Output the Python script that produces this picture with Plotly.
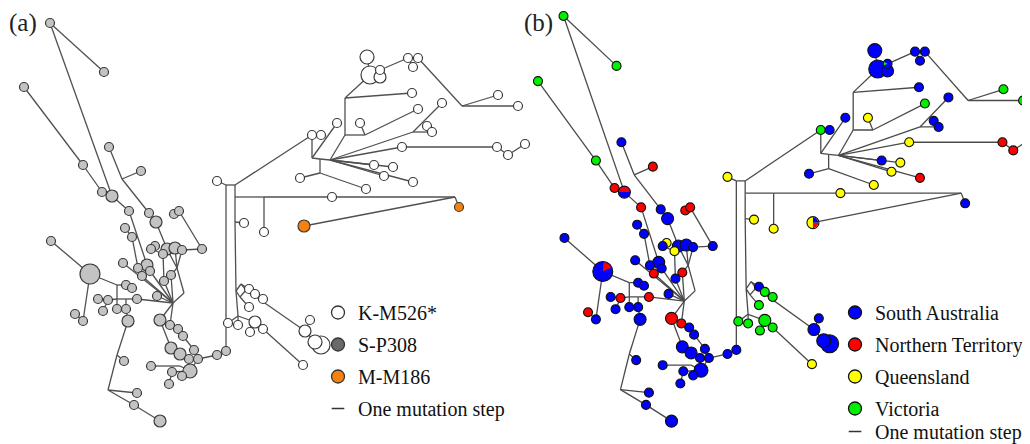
import math
import plotly.graph_objects as go

# ---------------- network data (layout coordinates of the haplotype network) ----------------
node_name = [
    "A1", "A2", "A3", "A4", "A5", "A6", "A7", "A8", "A9", "A10",
    "A11", "A12", "A13", "A14", "A15", "A16", "A17", "A18", "A19", "A20",
    "A21", "A22", "A23", "A24", "A25", "A26", "A27", "A28", "A29", "A30",
    "A31", "A32", "A33", "A34", "A35", "A36", "A37", "A38", "A39", "A40",
    "A41", "A42", "A43", "A44", "A45", "A46", "A47", "A48", "A49", "A50",
    "A51", "A52", "A53", "A54", "A55", "A56", "A57", "A58", "A59", "A60",
    "A61", "A62", "A63",
    "J4", "J0", "Jq", "J1", "Jh", "Jv", "Jw", "Ja", "Jb", "Jc",
    "B1", "T1", "T2", "H1", "H2", "B24", "J12", "O1", "O2", "B25", "S1", "B26",
    "Dl", "Dt", "Dr", "Db", "E1", "E2", "E3", "E4", "Je", "E5", "E6", "E7", "E8", "E9",
    "F1", "F2", "F3", "F4", "G1",
    "B2", "B3", "B4", "J2", "J6a", "J5", "J6", "B5", "B12", "B8", "B9", "B10", "B11",
    "B7", "B21", "B22", "B23", "J10", "B16", "B17", "B18", "J8", "J7", "J9", "B14", "B15",
    "B13", "C1", "C2", "C3", "C4", "D1", "D2", "D3", "J11", "B19", "B20",
]
node_x = [
    50, 104, 24, 109, 141, 83, 102, 112, 129, 149,
    156, 174, 179, 125, 132, 155, 151, 163, 167, 175,
    182, 202, 123, 138, 147, 150, 142, 171, 164, 157,
    51, 90, 75, 83, 126, 132, 98, 108, 103, 117,
    126, 137, 128, 160, 170, 178, 183, 171, 180, 194,
    189, 198, 190, 172, 182, 169, 151, 217, 226, 124,
    137, 134, 160,
    122, 177, 184, 173, 117, 117, 126, 117, 108, 180,
    217, 226, 235, 235, 264, 332, 455, 459, 304, 264, 235, 244,
    236, 241, 246, 240, 249, 255, 263, 249, 238, 228, 238, 255, 250, 263,
    310, 305, 315, 321, 303,
    312, 321, 337, 312, 320, 330, 320, 300, 366, 374, 393, 384, 413,
    402, 497, 508, 525, 413, 442, 427, 432, 345, 345, 365, 360, 418,
    412, 367, 370, 380, 380, 408, 418, 413, 462, 498, 518,
]
node_y = [
    23, 72, 87, 147, 171, 165, 192, 196, 211, 213,
    222, 214, 211, 228, 237, 246, 249, 254, 249, 248,
    250, 249, 263, 268, 265, 271, 276, 275, 281, 296,
    241, 274, 314, 321, 285, 288, 299, 300, 311, 309,
    309, 299, 321, 320, 325, 329, 336, 348, 354, 350,
    359, 359, 371, 372, 376, 384, 366, 355, 351, 361,
    393, 405, 421,
    179, 268, 293, 303, 285, 299, 299, 355, 390, 366,
    181, 185, 185, 197, 197, 197, 197, 207, 226, 232, 222, 223,
    291, 284, 290, 297, 289, 294, 299, 307, 316, 323, 325, 322, 332, 329,
    320, 331, 342, 345, 365,
    135, 135, 123, 158, 159, 160, 173, 178, 189, 165, 167, 176, 182,
    147, 147, 155, 144, 132, 103, 126, 132, 135, 98, 135, 123, 109,
    93, 57, 75, 70, 77, 58, 58, 67, 106, 95, 106,
]
# haplotype frequency class (0 = unsampled median vector)
node_n = [
    1, 1, 1, 1, 1, 1, 1, 2, 1, 1,
    2, 1, 1, 1, 1, 1, 1, 1, 2, 2,
    1, 1, 1, 1, 2, 1, 1, 1, 1, 1,
    1, 5, 1, 1, 1, 1, 1, 1, 1, 1,
    1, 1, 2, 2, 1, 1, 1, 2, 2, 1,
    1, 1, 3, 1, 1, 1, 1, 1, 1, 1,
    1, 1, 2,
    0, 0, 0, 0, 0, 0, 0, 0, 0, 0,
    1, 0, 0, 0, 0, 1, 0, 1, 2, 1, 0, 1,
    0, 0, 0, 0, 1, 1, 1, 1, 0, 1, 1, 2, 1, 1,
    1, 2, 3, 4, 1,
    1, 1, 1, 0, 0, 0, 0, 1, 1, 1, 1, 1, 1,
    1, 1, 1, 1, 0, 1, 1, 1, 0, 0, 0, 1, 1,
    1, 3, 4, 1, 2, 1, 1, 1, 0, 1, 1,
]
# lineage of each haplotype (panel a)
node_lineage = (["S"] * 63 + [""] * 10 +
                ["K", "", "", "", "", "K", "", "M", "M", "K", "", "K"] +
                ["", "", "", ""] + ["K"] * 4 + [""] + ["K"] * 5 +
                ["K"] * 5 +
                ["K", "K", "K", "", "", "", "", "K", "K", "K", "K", "K", "K"] +
                ["K", "K", "K", "K", "", "K", "K", "K", "", "", "", "K", "K"] +
                ["K", "K", "K", "K", "K", "K", "K", "K", "", "K", "K"])
# sampling region of each haplotype (panel b)
node_region = [
    "VIC", "VIC", "VIC", "SA", "NT", "VIC", "NT", "SA", "NT", "SA",
    "SA", "NT", "NT", "SA", "SA", "QLD", "SA", "QLD", "SA", "SA",
    "SA", "SA", "SA", "SA", "SA", "SA", "NT", "NT", "SA", "SA",
    "SA", "SA", "NT", "SA", "SA", "SA", "SA", "NT", "SA", "SA",
    "SA", "NT", "SA", "NT", "NT", "SA", "SA", "SA", "SA", "SA",
    "SA", "SA", "SA", "SA", "SA", "SA", "SA", "SA", "SA", "SA",
    "SA", "SA", "SA",
    "", "", "", "", "", "", "", "", "", "",
    "QLD", "", "", "", "", "QLD", "", "SA", "QLD", "QLD", "", "QLD",
    "", "", "", "", "SA", "VIC", "VIC", "VIC", "", "VIC", "VIC", "VIC", "VIC", "VIC",
    "SA", "SA", "SA", "SA", "QLD",
    "VIC", "SA", "SA", "", "", "", "", "SA", "QLD", "SA", "QLD", "QLD", "NT",
    "QLD", "NT", "NT", "NT", "", "SA", "SA", "SA", "", "", "", "QLD", "VIC",
    "SA", "SA", "SA", "SA", "SA", "SA", "SA", "SA", "", "VIC", "VIC",
]
edges = [
    ("A1", "A2"), ("A1", "A8"), ("A3", "A6"), ("A6", "A7"), ("A7", "A8"), ("A8", "A9"),
    ("A4", "J4"), ("J4", "A5"), ("J4", "A10"), ("A10", "A11"), ("A11", "A19"),
    ("A12", "A13"), ("A13", "A22"), ("A22", "A21"), ("A21", "J0"), ("A20", "J0"), ("A19", "J0"),
    ("J0", "A28"), ("J0", "Jq"), ("Jq", "J1"), ("A28", "J1"), ("A29", "J1"),
    ("A9", "A25"), ("A25", "A26"), ("A26", "J1"), ("A14", "A15"), ("A15", "A24"), ("A24", "A27"),
    ("A27", "J1"), ("A23", "J1"), ("A16", "A17"), ("A17", "A18"), ("A18", "A29"), ("A30", "J1"),
    ("A42", "J1"), ("J1", "A44"), ("J1", "A45"),
    ("A31", "A32"), ("A32", "A34"), ("A33", "A34"), ("A32", "Jh"), ("Jh", "A35"), ("A35", "A36"),
    ("A37", "A38"), ("A38", "Jv"), ("Jv", "Jw"), ("Jw", "A42"), ("Jh", "Jv"), ("Jv", "A40"),
    ("Jw", "A41"), ("A39", "A38"), ("A41", "A43"), ("A43", "Ja"), ("Ja", "A60"), ("Ja", "Jb"),
    ("Jb", "A61"), ("Jb", "A62"), ("A62", "A63"),
    ("A44", "A48"), ("A45", "A46"), ("A46", "A47"), ("A47", "A50"), ("A48", "A49"), ("A49", "A51"),
    ("A51", "A53"), ("A50", "A52"), ("A52", "A53"), ("A53", "A54"), ("A53", "A55"), ("A54", "A56"),
    ("A57", "Jc"), ("Jc", "A53"), ("A52", "A58"), ("A58", "A59"), ("A59", "T1"),
    ("B1", "T1"), ("T1", "T2"), ("T2", "H1"), ("H1", "S1"), ("S1", "Dl"), ("S1", "B26"),
    ("H1", "H2"), ("H2", "B24"), ("B24", "J12"), ("H2", "B25"), ("J12", "O1"), ("J12", "O2"),
    ("Dl", "Dt"), ("Dt", "Dr"), ("Dr", "Db"), ("Db", "Dl"), ("Dt", "E1"), ("E1", "E2"), ("E2", "E3"),
    ("Db", "E4"), ("Dl", "Je"), ("Je", "E5"), ("Je", "E6"), ("Je", "E7"), ("E7", "E8"), ("E7", "E9"),
    ("E9", "G1"), ("Dr", "F2"), ("F2", "F1"), ("F2", "F3"), ("F3", "F4"),
    ("T2", "B2"), ("B2", "B3"), ("B2", "J2"), ("J2", "B4"), ("J2", "J6a"), ("J6a", "J5"),
    ("J6a", "J6"), ("J6", "B5"), ("J6", "B12"), ("J5", "B8"), ("J5", "B9"), ("J5", "B10"),
    ("J5", "B11"), ("J5", "B7"), ("J5", "J10"), ("J5", "J8"), ("J8", "J7"), ("J8", "J9"),
    ("J9", "B14"), ("J9", "B15"), ("J7", "B13"), ("J7", "C2"), ("C2", "C1"), ("C2", "C4"),
    ("C4", "C3"), ("C3", "D1"), ("D1", "D2"), ("D1", "D3"), ("D2", "J11"), ("J11", "B19"),
    ("J11", "B20"), ("J10", "B16"), ("J10", "B18"), ("B18", "B17"), ("B7", "B21"),
    ("B21", "B22"), ("B22", "B23"),
]
# shared haplotypes in panel b (extra regions drawn as pie wedges, angles in degrees)
pie_node = ["A8", "A32", "C3", "O2", "O2"]
pie_region = ["NT", "NT", "VIC", "SA", "NT"]
pie_start = [0, 25, 150, 0, -90]
pie_end = [180, 85, 205, 90, 0]

lineage_names = ["K-M526*", "S-P308", "M-M186"]
region_names = ["South Australia", "Northern Territory", "Queensland", "Victoria"]
step_label = "One mutation step"

# ---------------- styles ----------------
SIZE = {0: 0, 1: 9, 2: 12, 3: 14, 4: 18, 5: 20}
LINEAGE_FILL = {"K": "#ffffff", "S": "#c3c3c3", "M": "#f5820f"}
LINEAGE_KEY = {"K-M526*": "#ffffff", "S-P308": "#6a6a6a", "M-M186": "#f5820f"}
REGION_FILL = {"SA": "#0000ff", "NT": "#ff0000", "QLD": "#ffff00", "VIC": "#00f000"}
REGION_KEY = dict(zip(region_names, ["SA", "NT", "QLD", "VIC"]))
EDGE_A = "#505050"
EDGE_B = "#4a4a4a"
SERIF = "Liberation Serif, Times New Roman, serif"

W, H = 1030, 444
OFF = 8  # page body margin: the figure is displayed 8 px right/down of the window origin
# panel b is the same network drawn slightly squeezed horizontally / stretched vertically
B_LEFT_PX, B_SX, B_SY, B_TOP_VAL = 514.4, 0.982, 1.018, 7.28
A_XMAX = 546
B_XMAX = 530

idx = {n: i for i, n in enumerate(node_name)}


def edge_xy():
    xs, ys = [], []
    for a, b in edges:
        xs += [node_x[idx[a]], node_x[idx[b]], None]
        ys += [node_y[idx[a]], node_y[idx[b]], None]
    return xs, ys


ex, ey = edge_xy()
fig = go.Figure()
step_marker = dict(symbol="line-ew", size=9, line=dict(color="#333333", width=1.5))

# ---- panel (a) ----
fig.add_trace(go.Scatter(x=ex, y=ey, mode="lines", line=dict(color=EDGE_A, width=1.3),
                         hoverinfo="skip", showlegend=False, xaxis="x", yaxis="y"))
for lin in ["S", "K", "M"]:
    ids = [i for i in range(len(node_name)) if node_lineage[i] == lin and node_n[i] > 0]
    ids.sort(key=lambda i: -node_n[i])
    fig.add_trace(go.Scatter(
        x=[node_x[i] for i in ids], y=[node_y[i] for i in ids], mode="markers",
        marker=dict(size=[SIZE[node_n[i]] for i in ids], color=LINEAGE_FILL[lin], opacity=1,
                    line=dict(color="#3a3a3a", width=1.2)),
        cliponaxis=False, showlegend=False, hoverinfo="skip", xaxis="x", yaxis="y"))
for k, name in enumerate(lineage_names):
    fig.add_trace(go.Scatter(
        x=[None], y=[None], mode="markers", name=name, legend="legend", legendgroup="a%d" % k,
        marker=dict(size=13, color=LINEAGE_KEY[name], opacity=1, line=dict(color="#333333", width=1.3)),
        xaxis="x", yaxis="y"))
fig.add_trace(go.Scatter(x=[None], y=[None], mode="markers", name=step_label, legend="legend",
                         legendgroup="a3", marker=step_marker, xaxis="x", yaxis="y"))

# ---- panel (b) ----
fig.add_trace(go.Scatter(x=ex, y=ey, mode="lines", line=dict(color=EDGE_B, width=1.3),
                         hoverinfo="skip", showlegend=False, xaxis="x2", yaxis="y2"))
ids = [i for i in range(len(node_name)) if node_region[i] and node_n[i] > 0]
ids.sort(key=lambda i: -node_n[i])
fig.add_trace(go.Scatter(
    x=[node_x[i] for i in ids], y=[node_y[i] for i in ids], mode="markers",
    marker=dict(size=[SIZE[node_n[i]] for i in ids], opacity=1,
                color=[REGION_FILL[node_region[i]] for i in ids],
                line=dict(color="#111111", width=1.1)),
    cliponaxis=False, showlegend=False, hoverinfo="skip", xaxis="x2", yaxis="y2"))
for k, name in enumerate(region_names):
    fig.add_trace(go.Scatter(
        x=[None], y=[None], mode="markers", name=name, legend="legend2", legendgroup="b%d" % k,
        marker=dict(size=13, color=REGION_FILL[REGION_KEY[name]], opacity=1,
                    line=dict(color="#111111", width=1.3)),
        xaxis="x2", yaxis="y2"))
fig.add_trace(go.Scatter(x=[None], y=[None], mode="markers", name=step_label, legend="legend3",
                         marker=step_marker, xaxis="x2", yaxis="y2"))

# pie wedges for shared haplotypes
shapes = []
for nm, reg, a0, a1 in zip(pie_node, pie_region, pie_start, pie_end):
    i = idx[nm]
    r_px = SIZE[node_n[i]] / 2 - 0.7
    rx, ry = r_px / B_SX, r_px / B_SY
    cx, cy = node_x[i], node_y[i]
    pts = [(cx, cy)]
    steps = 20
    for s in range(steps + 1):
        t = math.radians(a0 + (a1 - a0) * s / steps)
        pts.append((cx + rx * math.cos(t), cy - ry * math.sin(t)))
    path = "M " + " L ".join("%.2f,%.2f" % p for p in pts) + " Z"
    shapes.append(dict(type="path", path=path, xref="x2", yref="y2",
                       fillcolor=REGION_FILL[reg], line=dict(width=0), layer="above"))

legend_font = dict(family=SERIF, size=20, color="#111111")
b_dom0 = (B_LEFT_PX - OFF) / W
b_dom1 = (B_LEFT_PX - OFF + B_XMAX * B_SX) / W
b_ytop = B_TOP_VAL + OFF / B_SY


def leg(x_win, top_win, gap):
    return dict(x=(x_win - OFF) / W, y=1 - (top_win - OFF) / H, xanchor="left", yanchor="top",
                font=legend_font, bgcolor="rgba(0,0,0,0)", tracegroupgap=gap, itemsizing="trace")


fig.update_layout(
    width=W, height=H, margin=dict(l=0, r=0, t=0, b=0, autoexpand=False),
    paper_bgcolor="white", plot_bgcolor="rgba(0,0,0,0)",
    xaxis=dict(domain=[0, A_XMAX / W], range=[OFF, OFF + A_XMAX], visible=False),
    yaxis=dict(domain=[0, 1], range=[OFF + H, OFF], visible=False),
    xaxis2=dict(domain=[b_dom0, min(b_dom1, 1)], range=[0, B_XMAX], visible=False, anchor="y2"),
    yaxis2=dict(domain=[0, 1], range=[b_ytop + H / B_SY, b_ytop], visible=False, anchor="x2"),
    legend=leg(318, 293, 3),
    legend2=leg(835, 293, 3),
    legend3=leg(835, 412, 0),
    shapes=shapes,
    annotations=[
        dict(text="(a)", x=(23 - OFF) / W, y=1, xref="paper", yref="paper",
             xanchor="center", yanchor="top", borderpad=0, showarrow=False,
             font=dict(family=SERIF, size=25, color="#222222")),
        dict(text="(b)", x=(538 - OFF) / W, y=1, xref="paper", yref="paper",
             xanchor="center", yanchor="top", borderpad=0, showarrow=False,
             font=dict(family=SERIF, size=25, color="#222222")),
    ],
)
fig.write_html("out.html")
